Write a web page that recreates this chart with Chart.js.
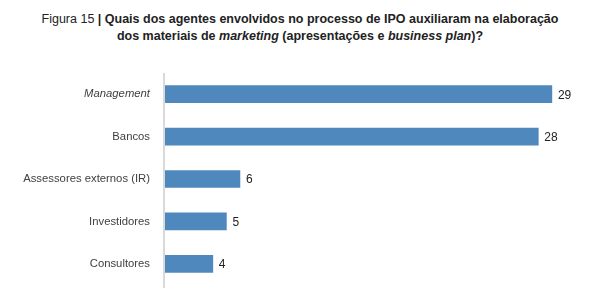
<!DOCTYPE html>
<html>
<head>
<meta charset="utf-8">
<script src="https://cdn.jsdelivr.net/npm/chart.js@4/dist/chart.umd.min.js"></script>
<style>
  html, body { margin: 0; padding: 0; background: #fff; }
  #wrap { position: relative; width: 590px; height: 294px; }
  #title {
    position: absolute; left: 0; top: 11px; width: 600px;
    text-align: center; font-family: "Liberation Sans", Arial, sans-serif;
    font-size: 12.5px; line-height: 17px; color: #222;
  }
  #title b { font-weight: bold; }
  canvas { position: absolute; left: 0; top: 0; }
</style>
</head>
<body>
<div id="wrap">
  <div id="title">Figura 15 <b>| Quais dos agentes envolvidos no processo de IPO auxiliaram na elaboração<br>dos materiais de <i>marketing</i> (apresentações e <i>business plan</i>)?</b></div>
  <canvas id="chart" width="590" height="294"></canvas>
</div>
<script>
const categories = ["Management", "Bancos", "Assessores externos (IR)", "Investidores", "Consultores"];
const values = [29, 28, 6, 5, 4];

const valueLabels = {
  id: "valueLabels",
  afterDatasetsDraw(chart) {
    const ctx = chart.ctx;
    const meta = chart.getDatasetMeta(0);
    ctx.save();
    ctx.font = "12px 'Liberation Sans', Arial, sans-serif";
    ctx.fillStyle = "#222";
    ctx.textBaseline = "middle";
    meta.data.forEach((bar, i) => {
      ctx.fillText(String(values[i]), bar.x + 6, bar.y + 1);
    });
    ctx.restore();
  }
};

const axisLine = {
  id: "axisLine",
  afterDatasetsDraw(chart) {
    const ctx = chart.ctx;
    const a = chart.chartArea;
    ctx.save();
    ctx.strokeStyle = "#d9d9d9";
    ctx.lineWidth = 2;
    ctx.beginPath();
    ctx.moveTo(a.left, 73);
    ctx.lineTo(a.left, 288);
    ctx.stroke();
    ctx.restore();
  }
};

new Chart(document.getElementById("chart"), {
  type: "bar",
  data: {
    labels: categories,
    datasets: [{
      data: values,
      backgroundColor: "#4f88bd",
      barThickness: 17
    }]
  },
  options: {
    indexAxis: "y",
    responsive: false,
    animation: false,
    layout: { padding: { top: 73, bottom: 9, right: 11, left: 0 } },
    plugins: { legend: { display: false }, tooltip: { enabled: false }, title: { display: false } },
    scales: {
      x: {
        display: false,
        min: 0.4,
        max: 31
      },
      y: {
        grid: { display: false, drawTicks: false },
        border: { display: false },
        afterFit(scale) {
          scale.width = 164;
          scale.paddingTop = 0;
          scale.paddingBottom = 0;
        },
        ticks: {
          padding: 14,
          color: "#404040",
          font: (c) => ({
            family: "'Liberation Sans', Arial, sans-serif",
            size: 11.3,
            style: c.index === 0 ? "italic" : "normal"
          })
        }
      }
    }
  },
  plugins: [valueLabels, axisLine]
});
</script>
</body>
</html>
